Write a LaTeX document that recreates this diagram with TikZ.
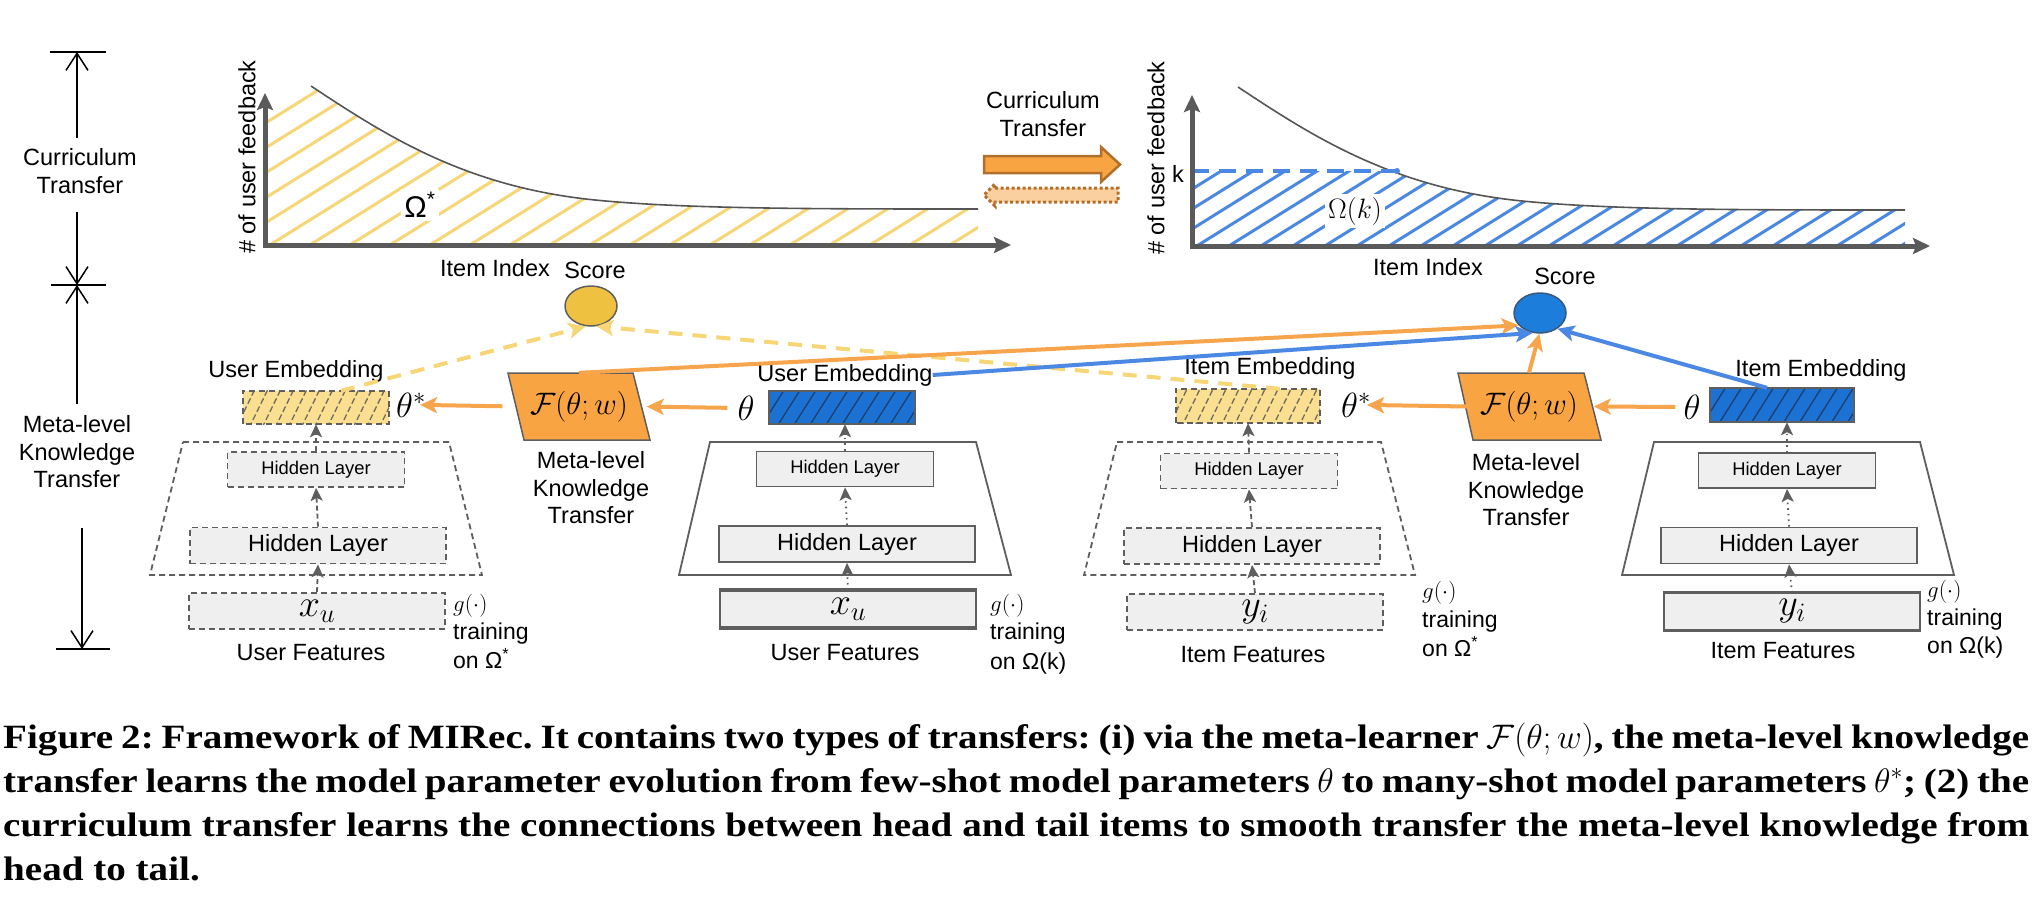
\RequirePackage{fix-cm}
\documentclass[tikz,border=0pt]{standalone}
\usepackage{graphicx}
\usepackage[no-math]{fontspec}
\setmainfont{Liberation Sans}
\newfontfamily\capfont[FakeStretch=1.15]{Liberation Serif}
\usetikzlibrary{arrows.meta,calc,shapes.geometric}
\frenchspacing
\definecolor{orangeF}{HTML}{F9A443}
\definecolor{orangeL}{HTML}{F7A54C}
\definecolor{yellowH}{HTML}{F6D677}
\definecolor{yellowB}{HTML}{FADF91}
\definecolor{yellowS}{HTML}{EFC140}
\definecolor{blueB}{HTML}{1C72D2}
\definecolor{blueL}{HTML}{4A88E4}
\definecolor{blueS}{HTML}{1C7DDA}
\definecolor{blueE}{HTML}{3B5778}
\definecolor{blueHt}{HTML}{1E3F6E}
\definecolor{axisg}{HTML}{5A5A5A}
\definecolor{curveg}{HTML}{555555}
\definecolor{boxg}{HTML}{EFEFEF}
\definecolor{edgeg}{HTML}{5E5E5E}
\definecolor{brownA}{HTML}{B0702C}
\definecolor{peach}{HTML}{FBD0A0}
\definecolor{hatchYg}{HTML}{6E6A5E}
\newcommand\fsz[1]{\fontsize{#1}{#1}\selectfont}
\newcommand\fszl[2]{\fontsize{#1}{#2}\selectfont}
\newcommand\capone{Figure 2: Framework of MIRec. It contains two types of transfers: (i) via the meta-learner $\mathcal{F}(\theta;w)$, the meta-level knowledge}
\newcommand\captwo{transfer learns the model parameter evolution from few-shot model parameters $\theta$ to many-shot model parameters $\theta^{*}$; (2) the}
\newcommand\capthree{curriculum transfer learns the connections between head and tail items to smooth transfer the meta-level knowledge from}
\newcommand\capfour{head to tail.}
\tikzset{
  lbl/.style={font=\fszl{23.5}{27.5}, inner sep=0pt, align=center},
  glbl/.style={font=\fsz{23}, inner sep=0pt, anchor=base west},
  mth/.style={inner sep=0pt},
  hlbox/.style={draw=edgeg, fill=boxg, line width=1.8pt, inner sep=0pt},
  dsh/.style={dash pattern=on 6pt off 4pt},
  trapline/.style={draw=edgeg, line width=1.8pt},
  oarrow/.style={draw=orangeL, line width=4pt, -{Stealth[length=17pt,width=16pt,inset=4pt]}},
  barrow/.style={draw=blueL, line width=4pt, -{Stealth[length=17pt,width=16pt,inset=4pt]}},
  yarrow/.style={draw=yellowH, line width=4pt, dash pattern=on 14pt off 10pt, -{Stealth[length=17pt,width=16pt,inset=4pt]}},
  garD/.style={draw=edgeg, line width=1.8pt, dash pattern=on 5pt off 3pt, -{Stealth[length=13pt,width=12pt,inset=3pt]}},
  garT/.style={draw=edgeg, line width=1.8pt, dash pattern=on 1.6pt off 4pt, -{Stealth[length=13pt,width=12pt,inset=3pt]}},
  axisst/.style={draw=axisg, line width=5pt, line join=miter},
  tcurve/.style={draw=curveg, line width=1.6pt},
  yhatch/.style={draw=yellowH, line width=3pt},
  bhatch/.style={draw=blueL, line width=3pt},
  hatchYB/.style={draw=hatchYg, line width=1.3pt, dash pattern=on 6pt off 3pt},
  hatchBB/.style={draw=blueHt, line width=1.3pt},
  dimline/.style={draw=black, line width=1.5pt},
  dimarrow/.style={draw=black, line width=1.5pt, -{Straight Barb[length=17pt,width=22pt]}},
  capn/.style={anchor=base west, inner sep=0pt, font=\capfont\bfseries\fsz{34}},
  Fpar/.style={fill=orangeF, draw=edgeg, line width=1.5pt},
}
\begin{document}
\begin{tikzpicture}[x=1pt,y=-1pt]
\useasboundingbox (0,0) rectangle (2032,902);

% ---------------- left dimension markers ----------------
\coordinate (tk1) at (77,52);
\coordinate (tk1s) at (77,138);
\coordinate (tk2a) at (77,212);
\coordinate (tk2) at (77,285);
\coordinate (tk2b) at (77,404);
\coordinate (tk3a) at (82,528);
\coordinate (tk3) at (82,649);
\draw[dimline] (50,52) -- (106,52);
\draw[dimline] (51,285) -- (106,285);
\draw[dimline] (56,649) -- (110,649);
\draw[dimarrow] (tk1s) -- (tk1);
\draw[dimarrow] (tk2a) -- (tk2);
\draw[dimarrow] (tk2b) -- (tk2);
\draw[dimarrow] (tk3a) -- (tk3);
\node[lbl] (dimct) at (80,171) {Curriculum\\Transfer};
\node[lbl] (dimmk) at (77,452) {Meta-level\\Knowledge\\Transfer};

% ---------------- left chart ----------------
\begin{scope}[shift={(265,245)}]
  \begin{scope}
    \clip (0,0) -- (0,-125) -- (46,-159) .. controls (120,-110) and (200,-58) .. (330,-45) .. controls (420,-36) and (550,-36) .. (713,-36) -- (713,0) -- cycle;
    \foreach \a in {-320,-280,...,720} \draw[yhatch] (\a,3) -- ++(300,-187);
  \end{scope}
  \draw[tcurve] (46,-159) .. controls (120,-110) and (200,-58) .. (330,-45) .. controls (420,-36) and (550,-36) .. (713,-36);
  \node[fill=white, inner sep=3pt] (om1) at (155,-40) {\fsz{30}Ω\textsuperscript{*}};
  \draw[axisst, {Stealth[length=17pt,width=16pt,inset=3pt]}-{Stealth[length=17pt,width=16pt,inset=3pt]}] (0,-152) -- (0,0) -- (746,0);
  \node[lbl, rotate=90] (yl1) at (-18,-88) {\# of user feedback};
  \node[lbl] (xl1) at (230,23) {Item Index};
\end{scope}

% ---------------- right chart ----------------
\begin{scope}[shift={(1192,246)}]
  \begin{scope}
    \clip (0,0) -- (0,-125) -- (46,-159) .. controls (120,-110) and (200,-58) .. (330,-45) .. controls (420,-36) and (550,-36) .. (713,-36) -- (713,0) -- cycle;
    \clip (-5,-75) rectangle (720,5);
    \foreach \a in {-320,-288,...,720} \draw[bhatch] (\a,3) -- ++(300,-187);
  \end{scope}
  \draw[tcurve] (46,-159) .. controls (120,-110) and (200,-58) .. (330,-45) .. controls (420,-36) and (550,-36) .. (713,-36);
  \draw[draw=blueL, line width=4.5pt, dash pattern=on 17pt off 10pt] (0,-75) -- (205,-75);
  \fill[blueL] (205,-75) circle (3pt);
  \node[fill=white, inner sep=3pt] (om2) at (163,-35) {\fsz{28}$\Omega(k)$};
  \draw[axisst, {Stealth[length=17pt,width=16pt,inset=3pt]}-{Stealth[length=17pt,width=16pt,inset=3pt]}] (0,-151) -- (0,0) -- (738,0);
  \node[lbl] (kl) at (-14,-72) {k};
  \node[lbl, rotate=90] (yl2) at (-36,-88) {\# of user feedback};
  \node[lbl] (xl2) at (236,21) {Item Index};
\end{scope}

% ---------------- curriculum transfer arrows ----------------
\node[lbl] (ctl) at (1043,114) {Curriculum\\Transfer};
\path[fill=orangeF, draw=brownA, line width=2.5pt, line join=miter] (984,156) -- (1101,156) -- (1101,147) -- (1120,164.5) -- (1101,182) -- (1101,173) -- (984,173) -- cycle;
\path[fill=peach, draw=brownA, line width=3pt, dash pattern=on 3pt off 2.5pt] (995,188) -- (1118,188) -- (1118,202) -- (995,202) -- (995,206) -- (984,195) -- (995,184) -- cycle;

% ---------------- scores ----------------
\node[lbl] (sl1) at (595,270) {Score};
\node[ellipse, draw=edgeg, fill=yellowS, line width=1.5pt, minimum width=52pt, minimum height=40pt, inner sep=0pt] (S1) at (591,306) {};
\node[lbl] (sl2) at (1565,276) {Score};
\node[ellipse, draw=blueE, fill=blueS, line width=1.5pt, minimum width=52pt, minimum height=40pt, inner sep=0pt] (S2) at (1540,313) {};

% ---------------- column 1 : user, Omega* (dashed) ----------------
\draw[trapline,dsh] (183,442) -- (449,442) -- (482,575) -- (150,575) -- cycle;
\node[hlbox,dsh,minimum width=177pt,minimum height=35pt] (hs1) at (316,469.5) {\fsz{18.4}Hidden Layer};
\node[hlbox,dsh,minimum width=256pt,minimum height=36pt] (hb1) at (318,545.5) {\fsz{23.5}Hidden Layer};
\node[hlbox,dsh,minimum width=256pt,minimum height=36pt] (ft1) at (317,611) {\fsz{38}$x_u$};
\node[lbl] (fl1) at (311,653) {User Features};
\node[fill=yellowB, inner sep=0pt, minimum width=146pt, minimum height=33pt] (emb1) at (316,407.5) {};
\begin{scope}
  \clip (emb1.south west) rectangle (emb1.north east);
  \foreach \k in {-3,...,13} \draw[hatchYB] ({236+\k*13},428) -- ++(20,-41);
\end{scope}
\draw[trapline,dsh] (emb1.south west) rectangle (emb1.north east);
\node[lbl] (el1) at (296,371) {User Embedding};
\node[mth] (ts1) at (411,405) {\fsz{35}$\theta^{*}$};
\draw[garD] (ft1.north) -- (hb1.south);
\draw[garD] (hb1.north) -- (hs1.south);
\draw[garD] (hs1.north) -- (emb1.south);
\node[glbl] (g1a) at (453,611) {$g(\cdot)$};
\node[glbl] (g1b) at (453,639) {training};
\node[glbl] (g1c) at (453,668) {on Ω\textsuperscript{*}};

% ---------------- column 2 : user, Omega(k) (solid) ----------------
\draw[trapline] (710,442) -- (976,442) -- (1011,575) -- (679,575) -- cycle;
\node[hlbox,minimum width=177pt,minimum height=35pt] (hs2) at (845,469) {\fsz{18.4}Hidden Layer};
\node[hlbox,minimum width=256pt,minimum height=36pt] (hb2) at (847,544) {\fsz{23.5}Hidden Layer};
\node[hlbox,minimum width=256pt,minimum height=36pt] (ft2) at (848,609) {\fsz{38}$x_u$};
\draw[edgeg, line width=3.5pt] (ft2.north west) -- (ft2.north east);
\draw[edgeg, line width=3.5pt] (ft2.south west) -- (ft2.south east);
\node[lbl] (fl2) at (845,653) {User Features};
\node[fill=blueB, inner sep=0pt, minimum width=146pt, minimum height=33pt] (emb2) at (842,407.5) {};
\begin{scope}
  \clip (emb2.south west) rectangle (emb2.north east);
  \foreach \k in {-3,...,11} \draw[hatchBB] ({760+\k*16},428) -- ++(26,-41);
\end{scope}
\draw[trapline] (emb2.south west) rectangle (emb2.north east);
\node[lbl] (el2) at (845,375) {User Embedding};
\node[mth] (t2) at (746,408) {\fsz{35}$\theta$};
\draw[garT] (ft2.north) -- (hb2.south);
\draw[garT] (hb2.north) -- (hs2.south);
\draw[garT] (hs2.north) -- (emb2.south -| hs2.north);
\node[glbl] (g2a) at (990,611) {$g(\cdot)$};
\node[glbl] (g2b) at (990,639) {training};
\node[glbl] (g2c) at (990,669) {on Ω(k)};

% ---------------- meta-learner 1 ----------------
\path[Fpar] (508,373) -- (633,373) -- (650,440) -- (524,440) -- cycle;
\node[mth, minimum width=125pt, minimum height=67pt] (F1) at (579,406.5) {\fsz{31}$\mathcal{F}(\theta;w)$};
\node[lbl] (mk1) at (591,488) {Meta-level\\Knowledge\\Transfer};
\draw[oarrow, shorten <=10pt, shorten >=5pt] (t2.west) -- (F1.east);
\draw[oarrow, shorten <=14pt, shorten >=-6pt] (F1.west) -- (ts1.east);

% ---------------- column 3 : item, Omega* (dashed) ----------------
\draw[trapline,dsh] (1117,442) -- (1381,442) -- (1415,575) -- (1084,575) -- cycle;
\node[hlbox,dsh,minimum width=177pt,minimum height=35pt] (hs3) at (1249,471) {\fsz{18.4}Hidden Layer};
\node[hlbox,dsh,minimum width=256pt,minimum height=36pt] (hb3) at (1252,546) {\fsz{23.5}Hidden Layer};
\node[hlbox,dsh,minimum width=256pt,minimum height=36pt] (ft3) at (1255,612) {\fsz{38}$y_i$};
\node[lbl] (fl3) at (1253,655) {Item Features};
\node[fill=yellowB, inner sep=0pt, minimum width=144pt, minimum height=34pt] (emb3) at (1248,406) {};
\begin{scope}
  \clip (emb3.south west) rectangle (emb3.north east);
  \foreach \k in {-3,...,13} \draw[hatchYB] ({1168+\k*13},428) -- ++(20,-41);
\end{scope}
\draw[trapline,dsh] (emb3.south west) rectangle (emb3.north east);
\node[lbl] (el3) at (1270,368) {Item Embedding};
\node[mth] (ts3) at (1356,405) {\fsz{35}$\theta^{*}$};
\draw[garD] (ft3.north) -- (hb3.south);
\draw[garD] (hb3.north) -- (hs3.south);
\draw[garD] (hs3.north) -- (emb3.south);
\node[glbl] (g3a) at (1422,598) {$g(\cdot)$};
\node[glbl] (g3b) at (1422,627) {training};
\node[glbl] (g3c) at (1422,656) {on Ω\textsuperscript{*}};

% ---------------- column 4 : item, Omega(k) (solid) ----------------
\draw[trapline] (1654,442) -- (1920,442) -- (1954,575) -- (1622,575) -- cycle;
\node[hlbox,minimum width=177pt,minimum height=35pt] (hs4) at (1787,470.5) {\fsz{18.4}Hidden Layer};
\node[hlbox,minimum width=256pt,minimum height=36pt] (hb4) at (1789,545.5) {\fsz{23.5}Hidden Layer};
\node[hlbox,minimum width=256pt,minimum height=36pt] (ft4) at (1792,611.5) {\fsz{38}$y_i$};
\draw[edgeg, line width=3.5pt] (ft4.north west) -- (ft4.north east);
\draw[edgeg, line width=3.5pt] (ft4.south west) -- (ft4.south east);
\node[lbl] (fl4) at (1783,651) {Item Features};
\node[fill=blueB, inner sep=0pt, minimum width=144pt, minimum height=34pt] (emb4) at (1782,405) {};
\begin{scope}
  \clip (emb4.south west) rectangle (emb4.north east);
  \foreach \k in {-3,...,11} \draw[hatchBB] ({1700+\k*16},428) -- ++(26,-41);
\end{scope}
\draw[trapline] (emb4.south west) rectangle (emb4.north east);
\node[lbl] (el4) at (1821,370) {Item Embedding};
\node[mth] (t4) at (1692,407) {\fsz{35}$\theta$};
\draw[garT] (ft4.north) -- (hb4.south);
\draw[garT] (hb4.north) -- (hs4.south);
\draw[garT] (hs4.north) -- (emb4.south -| hs4.north);
\node[glbl] (g4a) at (1927,597) {$g(\cdot)$};
\node[glbl] (g4b) at (1927,625) {training};
\node[glbl] (g4c) at (1927,653) {on Ω(k)};

% ---------------- meta-learner 2 ----------------
\path[Fpar] (1458,373) -- (1584,373) -- (1601,440) -- (1473,440) -- cycle;
\node[mth, minimum width=125pt, minimum height=67pt] (F2) at (1529,406.5) {\fsz{31}$\mathcal{F}(\theta;w)$};
\node[lbl] (mk2) at (1526,490) {Meta-level\\Knowledge\\Transfer};
\draw[oarrow, shorten <=8pt, shorten >=2pt] (t4.west) -- (F2.east);
\draw[oarrow, shorten <=-6pt, shorten >=-4pt] (F2.west) -- (ts3.east);

% ---------------- connectors to scores ----------------
\draw[yarrow] ($(emb1.north)+(25,0)$) -- (S1.255);
\draw[yarrow] ($(emb3.north)+(32,0)$) -- (S1.285);
\draw[oarrow] (F1.north) -- (S2.210);
\draw[barrow] (el2.east) -- (S2.250);
\draw[oarrow] (F2.north) -- (S2.268);
\draw[barrow] ($(emb4.north)+(-15,0)$) -- (S2.318);

% ---------------- caption ----------------
\node[capn] (cap1) at (3,748) {\makebox[2026pt][s]{\capone}};
\node[capn] (cap2) at (3,792) {\makebox[2026pt][s]{\captwo}};
\node[capn] (cap3) at (3,836) {\makebox[2026pt][s]{\capthree}};
\node[capn] (cap4) at (3,880) {\capfour};
\end{tikzpicture}
\end{document}
